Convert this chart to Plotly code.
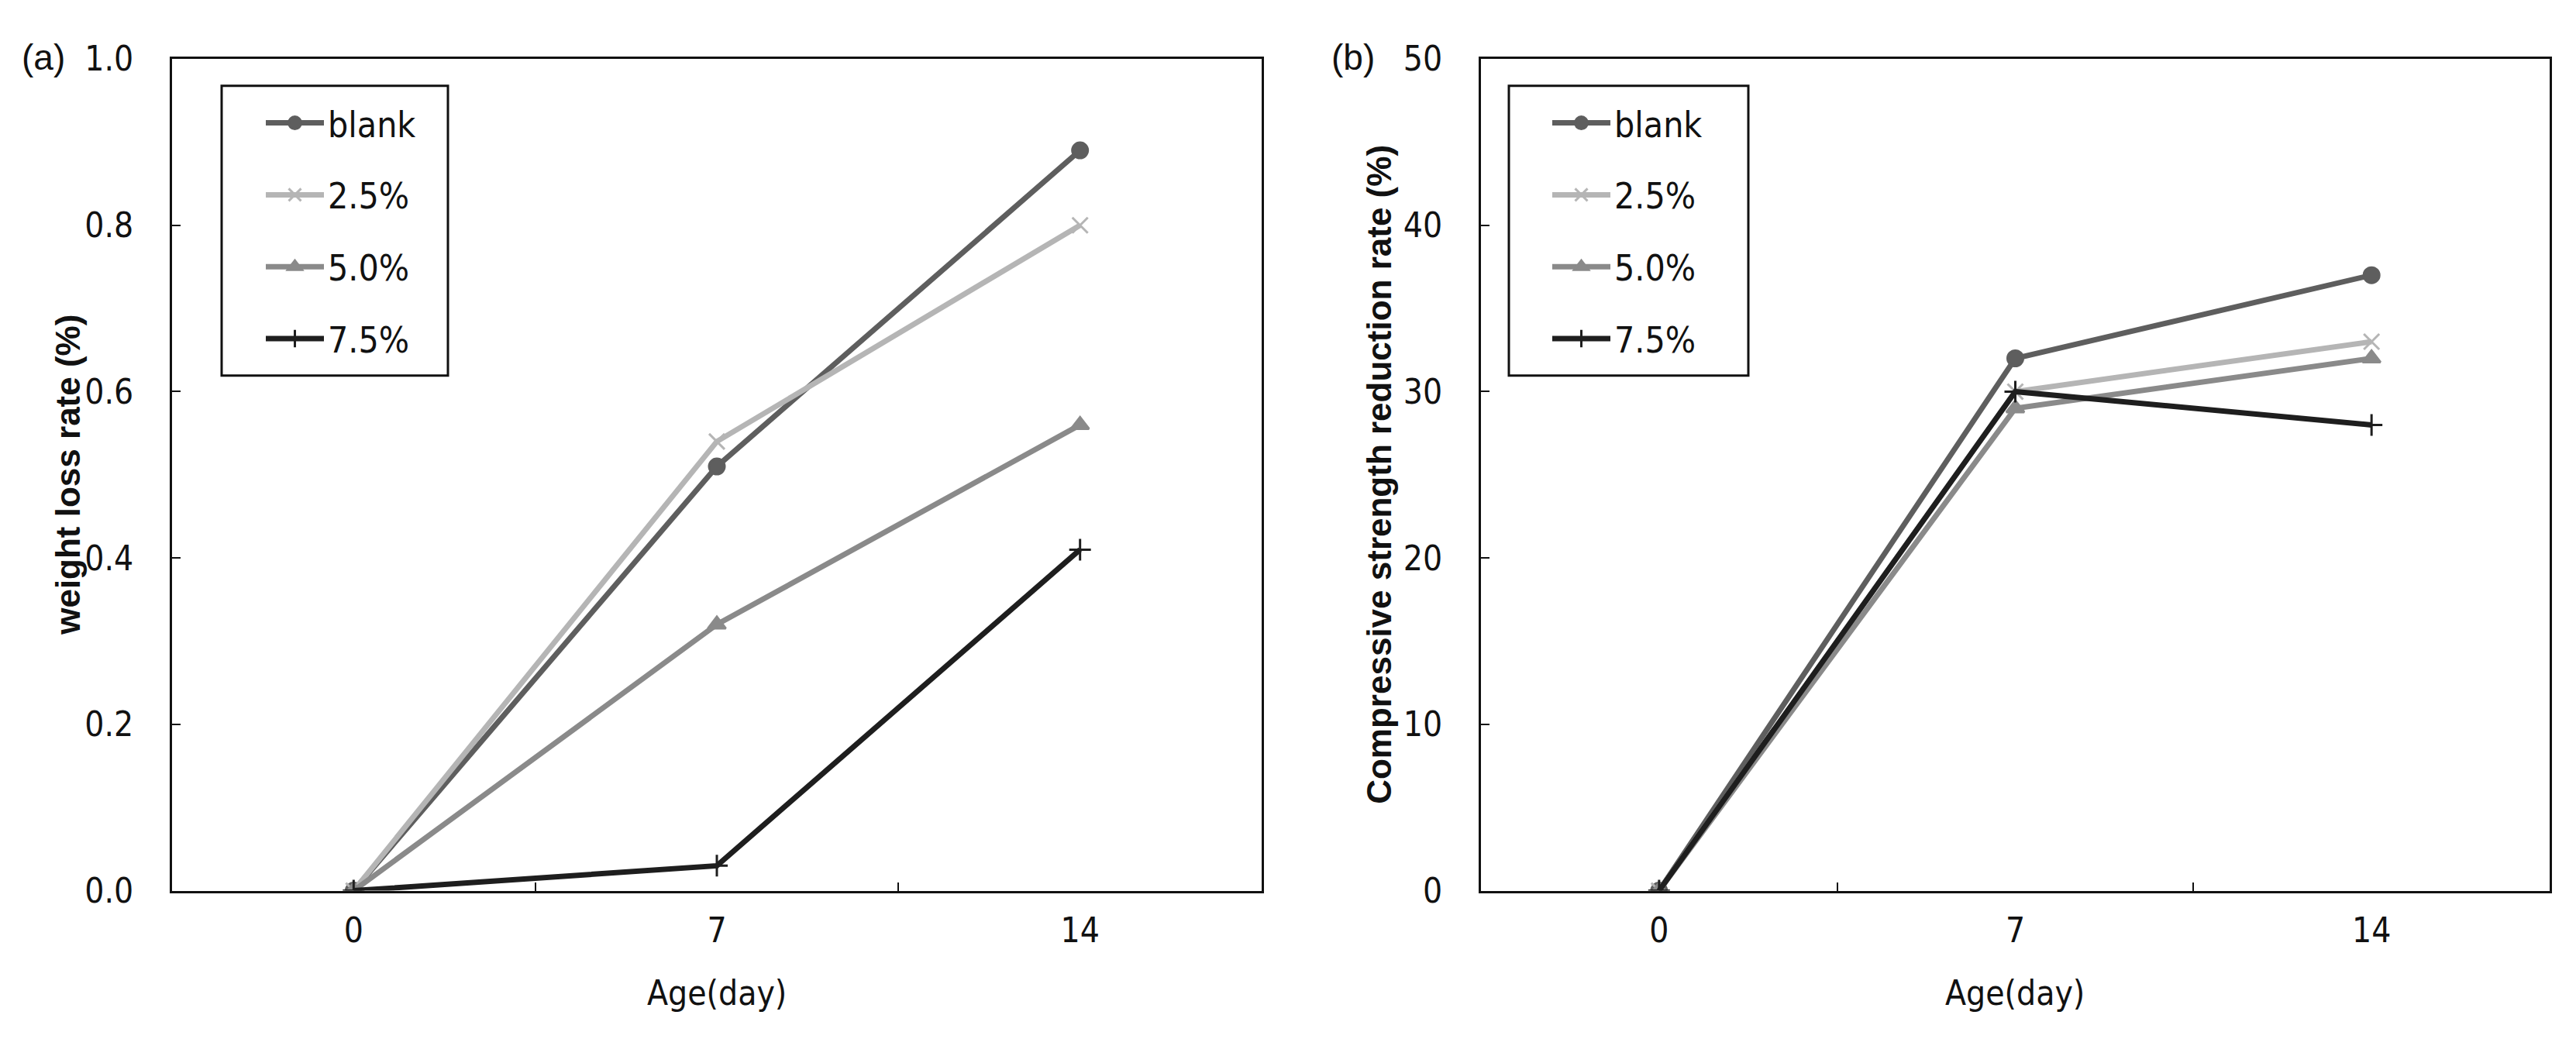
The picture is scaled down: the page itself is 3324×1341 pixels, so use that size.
import plotly.graph_objects as go
from plotly.subplots import make_subplots

# Data
ages = ["0", "7", "14"]
series = ["blank", "2.5%", "5.0%", "7.5%"]

weight_loss = {
    "blank": [0.0, 0.51, 0.89],
    "2.5%": [0.0, 0.54, 0.80],
    "5.0%": [0.0, 0.32, 0.56],
    "7.5%": [0.0, 0.03, 0.41],
}
strength_loss = {
    "blank": [0.0, 32.0, 37.0],
    "2.5%": [0.0, 30.0, 33.0],
    "5.0%": [0.0, 29.0, 32.0],
    "7.5%": [0.0, 30.0, 28.0],
}

weight_ticks = [0.0, 0.2, 0.4, 0.6, 0.8, 1.0]
strength_ticks = [0, 10, 20, 30, 40, 50]

# Styles per series (gray scale like the Excel original)
colors = {"blank": "#5e5e5e", "2.5%": "#b5b5b5", "5.0%": "#8a8a8a", "7.5%": "#1e1e1e"}
symbols = {"blank": "circle", "2.5%": "x-thin", "5.0%": "triangle-up", "7.5%": "cross-thin"}
msizes = {"blank": 20, "2.5%": 20, "5.0%": 20, "7.5%": 20}

W, H = 3324, 1341
NARROW = "Liberation Sans Narrow, Arial Narrow, DejaVu Sans Condensed, sans-serif"
SANS = "Liberation Sans, Arial, sans-serif"

# plot frame (px)
TOP, BOTTOM = 52, 1168


def px_x(v):
    return v / W


def px_y(v):
    return 1 - v / H


fig = make_subplots(rows=1, cols=2)

for col, data, leg in [(1, weight_loss, "legend"), (2, strength_loss, "legend2")]:
    for name in series:
        mk = dict(symbol=symbols[name], size=msizes[name], color=colors[name],
                  line=dict(color=colors[name], width=3))
        fig.add_trace(go.Scatter(x=ages, y=data[name], name=name, mode="lines+markers",
                                 line=dict(color=colors[name], width=7), marker=mk,
                                 legend=leg, legendgroup=f"{leg}_{name}"),
                      row=1, col=col)

dom_y = [px_y(BOTTOM), px_y(TOP)]
fig.update_layout(
    xaxis=dict(domain=[px_x(222), px_x(1628)]),
    xaxis2=dict(domain=[px_x(1911), px_x(3290)]),
    yaxis=dict(domain=dom_y),
    yaxis2=dict(domain=dom_y),
)

axis_common = dict(showline=True, linecolor="#111111", linewidth=3, mirror=True,
                   showgrid=False, zeroline=False, ticks="inside", ticklen=11,
                   tickwidth=2, tickcolor="#111111",
                   tickfont=dict(family=NARROW, size=44, color="#111111"))

fig.update_xaxes(type="category", categoryorder="array", categoryarray=ages,
                 range=[-0.5, 2.5], tickson="boundaries", ticklabelstandoff=11,
                 **axis_common)
fig.update_yaxes(ticklabelstandoff=38, **axis_common)
fig.update_yaxes(range=[0, 1.0], tickvals=weight_ticks, tickformat=".1f", row=1, col=1)
fig.update_yaxes(range=[0, 50], tickvals=strength_ticks, row=1, col=2)

legend_common = dict(font=dict(family=NARROW, size=46, color="#111111"),
                     bgcolor="rgba(0,0,0,0)", borderwidth=0, tracegroupgap=30,
                     itemwidth=75, xanchor="left", yanchor="top", itemsizing="trace")
fig.update_layout(
    legend=dict(x=px_x(338), y=px_y(100), **legend_common),
    legend2=dict(x=px_x(1998), y=px_y(100), **legend_common),
)

# Legend frames
for x0, x1 in [(286, 578), (1947, 2256)]:
    fig.add_shape(type="rect", xref="paper", yref="paper",
                  x0=px_x(x0), x1=px_x(x1), y0=px_y(477), y1=px_y(88),
                  line=dict(color="#111111", width=3))

# Axis titles and panel labels
txt = dict(family=NARROW, size=44, color="#111111")
bold = dict(family=SANS, size=44, color="#111111", weight="bold")
mid = (TOP + BOTTOM) / 2
notes = [
    ("Age(day)", 925, 1305, 0, txt),
    ("Age(day)", 2600, 1305, 0, txt),
    ("weight loss rate (%)", 88, mid, -90, bold),
    ("Compressive strength reduction rate (%)", 1780, mid, -90, bold),
    ("(a)", 56, 50, 0, dict(family=SANS, size=46, color="#111111")),
    ("(b)", 1746, 50, 0, dict(family=SANS, size=46, color="#111111")),
]
for text, x, y, ang, f in notes:
    fig.add_annotation(text=text, x=px_x(x), y=px_y(y), xref="paper", yref="paper",
                       xanchor="center", yanchor="middle", textangle=ang,
                       showarrow=False, font=f)

fig.update_layout(width=W, height=H, margin=dict(l=0, r=0, t=0, b=0),
                  plot_bgcolor="white", paper_bgcolor="white", showlegend=True)

# drop the default page margin so the figure sits at the window origin
fig.write_html("out.html", config={"displayModeBar": False},
               post_script="document.body.style.margin = '0px';")
